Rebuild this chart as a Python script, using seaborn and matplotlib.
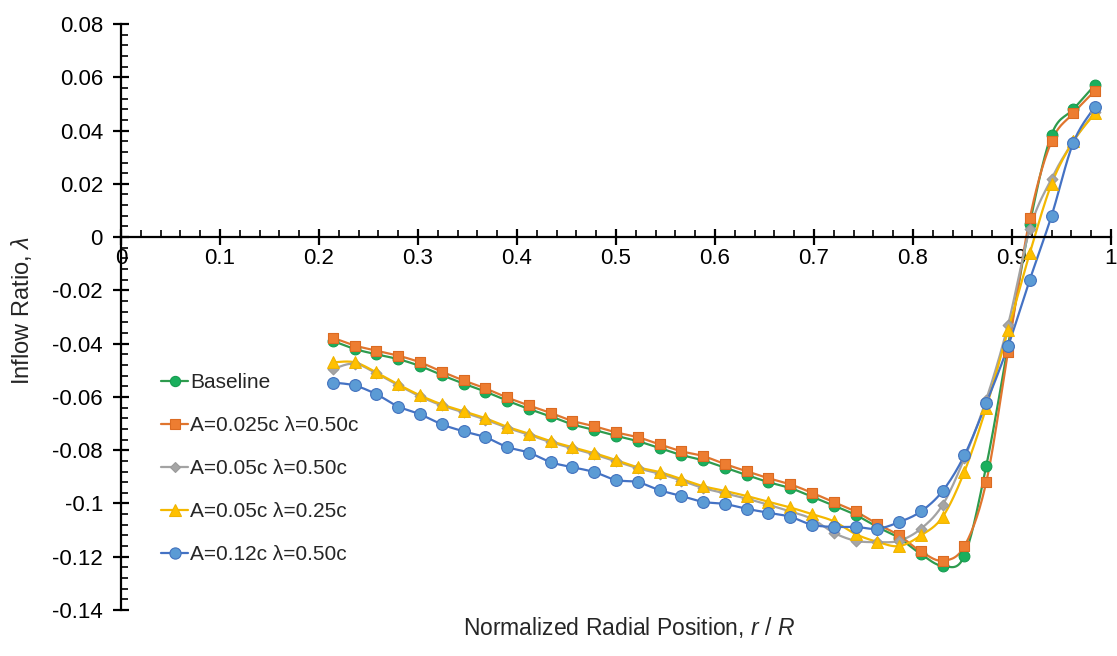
import numpy as np
import pandas as pd
import matplotlib
matplotlib.use("Agg")
import matplotlib.pyplot as plt
from matplotlib.lines import Line2D
from matplotlib.ticker import MultipleLocator, FuncFormatter
import seaborn as sns

# Radial stations along the blade
r_over_R = [0.214, 0.236, 0.258, 0.280, 0.302, 0.324, 0.346, 0.368, 0.390, 0.412,
            0.434, 0.456, 0.478, 0.500, 0.522, 0.544, 0.566, 0.588, 0.610, 0.632,
            0.654, 0.676, 0.698, 0.720, 0.742, 0.764, 0.786, 0.808, 0.830, 0.852,
            0.874, 0.896, 0.918, 0.940, 0.962, 0.984]

baseline = [-0.0390, -0.0420, -0.0440, -0.0458, -0.0484, -0.0518, -0.0550, -0.0580, -0.0614, -0.0645,
            -0.0673, -0.0703, -0.0724, -0.0746, -0.0766, -0.0792, -0.0818, -0.0838, -0.0866, -0.0893,
            -0.0920, -0.0942, -0.0975, -0.1008, -0.1043, -0.1088, -0.1130, -0.1190, -0.1234, -0.1196,
            -0.0860, -0.0410, 0.0050, 0.0385, 0.0480, 0.0572]

a0025_l050 = [-0.0378, -0.0407, -0.0426, -0.0445, -0.0470, -0.0505, -0.0538, -0.0568, -0.0602, -0.0632,
              -0.0660, -0.0690, -0.0710, -0.0733, -0.0751, -0.0778, -0.0804, -0.0822, -0.0852, -0.0879,
              -0.0905, -0.0928, -0.0960, -0.0995, -0.1030, -0.1077, -0.1120, -0.1180, -0.1215, -0.1160,
              -0.0920, -0.0430, 0.0070, 0.0360, 0.0465, 0.0550]

a005_l050 = [-0.0495, -0.0475, -0.0512, -0.0556, -0.0598, -0.0632, -0.0658, -0.0685, -0.0716, -0.0742,
             -0.0770, -0.0793, -0.0816, -0.0842, -0.0868, -0.0888, -0.0914, -0.0942, -0.0962, -0.0982,
             -0.1005, -0.1030, -0.1058, -0.1110, -0.1140, -0.1145, -0.1140, -0.1095, -0.1005, -0.0830,
             -0.0610, -0.0330, 0.0030, 0.0220, 0.0360, 0.0470]

a005_l025 = [-0.0470, -0.0470, -0.0508, -0.0553, -0.0594, -0.0628, -0.0654, -0.0680, -0.0712, -0.0738,
             -0.0766, -0.0789, -0.0811, -0.0837, -0.0864, -0.0882, -0.0908, -0.0935, -0.0953, -0.0972,
             -0.0994, -0.1015, -0.1040, -0.1067, -0.1115, -0.1144, -0.1160, -0.1120, -0.1050, -0.0880,
             -0.0640, -0.0350, -0.0060, 0.0200, 0.0360, 0.0465]

a012_l050 = [-0.0546, -0.0557, -0.0590, -0.0636, -0.0665, -0.0703, -0.0729, -0.0751, -0.0788, -0.0809,
             -0.0845, -0.0864, -0.0882, -0.0912, -0.0920, -0.0950, -0.0972, -0.0994, -0.1002, -0.1020,
             -0.1035, -0.1050, -0.1080, -0.1088, -0.1088, -0.1095, -0.1070, -0.1030, -0.0953, -0.0819,
             -0.0624, -0.0410, -0.0160, 0.0080, 0.0355, 0.0490]

series_names = ["Baseline", "A=0.025c \u03bb=0.50c", "A=0.05c \u03bb=0.50c",
                "A=0.05c \u03bb=0.25c", "A=0.12c \u03bb=0.50c"]
series_values = [baseline, a0025_l050, a005_l050, a005_l025, a012_l050]

x_ticks = [0, 0.1, 0.2, 0.3, 0.4, 0.5, 0.6, 0.7, 0.8, 0.9, 1]
y_ticks = [-0.14, -0.12, -0.1, -0.08, -0.06, -0.04, -0.02, 0, 0.02, 0.04, 0.06, 0.08]

styles = [
    dict(marker="o", fill="#1AAF5D", edge="#169C50", line="#2E9B4E", s=60),
    dict(marker="s", fill="#ED7D31", edge="#DB6B22", line="#E0752E", s=62),
    dict(marker="D", fill="#A5A5A5", edge="#9A9A9A", line="#A3A3A3", s=30),
    dict(marker="^", fill="#FFC000", edge="#F0B400", line="#F4B800", s=72),
    dict(marker="o", fill="#5B9BD5", edge="#4272BE", line="#4472C4", s=72),
]


def smooth_curve(x, y, n=16):
    """Bezier smoothing through every point (control points from neighbouring slopes)."""
    x = np.asarray(x, float)
    y = np.asarray(y, float)
    px = np.concatenate([[x[0]], x, [x[-1]]])
    py = np.concatenate([[y[0]], y, [y[-1]]])
    xs, ys = [], []
    t = np.linspace(0, 1, n, endpoint=False)
    for i in range(1, len(px) - 2):
        p0 = np.array([px[i], py[i]])
        p3 = np.array([px[i + 1], py[i + 1]])
        c1 = p0 + (np.array([px[i + 1], py[i + 1]]) - np.array([px[i - 1], py[i - 1]])) / 6
        c2 = p3 - (np.array([px[i + 2], py[i + 2]]) - np.array([px[i], py[i]])) / 6
        b = ((1 - t) ** 3)[:, None] * p0 + (3 * (1 - t) ** 2 * t)[:, None] * c1 \
            + (3 * (1 - t) * t ** 2)[:, None] * c2 + (t ** 3)[:, None] * p3
        xs.append(b[:, 0])
        ys.append(b[:, 1])
    xs.append([x[-1]])
    ys.append([y[-1]])
    return np.concatenate(xs), np.concatenate(ys)


sns.set_style("ticks")
plt.rcParams["font.family"] = ["Liberation Sans", "DejaVu Sans"]
plt.rcParams["mathtext.fontset"] = "custom"
plt.rcParams["mathtext.it"] = "Liberation Sans:italic"
plt.rcParams["mathtext.rm"] = "Liberation Sans"

fig = plt.figure(figsize=(11.17, 6.56), dpi=100)
ax = fig.add_axes([0.1083, 0.0701, 0.8863, 0.8933])

handles = []
for name, vals, st in zip(series_names, series_values, styles):
    sx, sy = smooth_curve(r_over_R, vals)
    sns.lineplot(x=sx, y=sy, ax=ax, color=st["line"], linewidth=1.6,
                 sort=False, estimator=None, legend=False)
    sns.scatterplot(x=r_over_R, y=vals, ax=ax, marker=st["marker"], s=st["s"],
                    color=st["fill"], edgecolor=st["edge"], linewidth=0.8,
                    legend=False, zorder=3)
    handles.append(Line2D([0], [0], color=st["line"], linewidth=1.6,
                          marker=st["marker"], markerfacecolor=st["fill"],
                          markeredgecolor=st["edge"], markeredgewidth=0.8,
                          markersize=np.sqrt(st["s"]) * 0.95))

ax.set_xlim(0, 1)
ax.set_ylim(-0.14, 0.08)
ax.set_xticks(x_ticks)
ax.set_yticks(y_ticks)
ax.xaxis.set_major_formatter(FuncFormatter(lambda v, p: f"{v:g}"))
ax.yaxis.set_major_formatter(FuncFormatter(lambda v, p: "0" if abs(v) < 1e-9 else f"{v:g}"))
ax.xaxis.set_minor_locator(MultipleLocator(0.02))
ax.yaxis.set_minor_locator(MultipleLocator(0.004))

for side in ("top", "right"):
    ax.spines[side].set_visible(False)
ax.spines["bottom"].set_position(("data", 0))
ax.spines["left"].set_position(("data", 0))
for side in ("bottom", "left"):
    ax.spines[side].set_linewidth(1.6)
    ax.spines[side].set_color("black")

ax.tick_params(axis="both", which="major", direction="inout", length=12, width=1.6,
               labelsize=16, colors="black")
ax.tick_params(axis="both", which="minor", direction="in", length=5, width=1.2, colors="black")
ax.tick_params(axis="x", which="major", pad=2)
ax.tick_params(axis="y", which="major", pad=7)

fig.text(0.563, 0.044, "Normalized Radial Position, $r$ / $R$", ha="center", va="center",
         fontsize=16.5)
fig.text(0.019, 0.527, "Inflow Ratio, $\u03bb$", ha="center", va="center",
         rotation=90, fontsize=17)

leg = ax.legend(handles, series_names, loc="upper left",
                bbox_to_anchor=(161 / 1117, 1 - 373 / 656), bbox_transform=fig.transFigure,
                frameon=False, fontsize=15, handlelength=1.3, handletextpad=0.1,
                labelspacing=1.15, borderaxespad=0, borderpad=0)

fig.savefig("out.png", dpi=100)
